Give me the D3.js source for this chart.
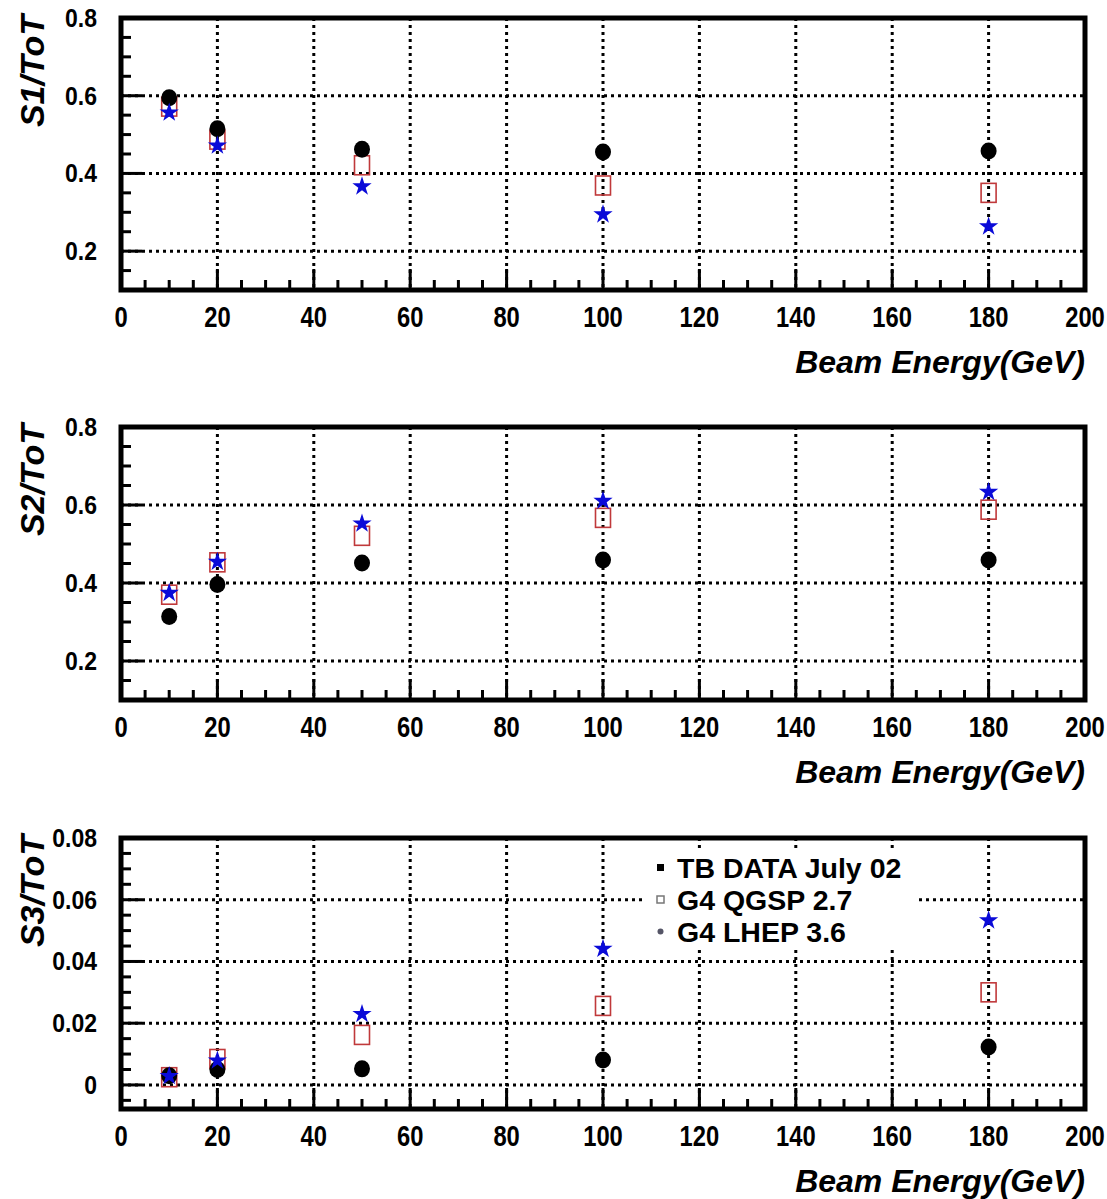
<!DOCTYPE html>
<html><head><meta charset="utf-8">
<script src="https://cdn.jsdelivr.net/npm/d3@7"></script>
<style>body{margin:0;background:#fff}</style>
</head><body><svg id="c" width="1107" height="1199"></svg>
<script>
const energies = [10, 20, 50, 100, 180];
const seriesNames = ["TB DATA July 02", "G4 QGSP 2.7", "G4 LHEP 3.6"];
const s1TB   = [0.595, 0.515, 0.462, 0.455, 0.458];
const s1QGSP = [0.572, 0.487, 0.421, 0.369, 0.350];
const s1LHEP = [0.559, 0.474, 0.369, 0.297, 0.266];
const s2TB   = [0.314, 0.396, 0.451, 0.459, 0.459];
const s2QGSP = [0.370, 0.453, 0.521, 0.567, 0.588];
const s2LHEP = [0.377, 0.457, 0.555, 0.613, 0.636];
const s3TB   = [0.0030, 0.0050, 0.0052, 0.0081, 0.0123];
const s3QGSP = [0.0025, 0.0084, 0.0162, 0.0256, 0.0300];
const s3LHEP = [0.0032, 0.0082, 0.0233, 0.0444, 0.0536];
const xTicks = [0, 20, 40, 60, 80, 100, 120, 140, 160, 180, 200];
const yTicks12 = [0.2, 0.4, 0.6, 0.8];
const yTicks3 = [0, 0.02, 0.04, 0.06, 0.08];
const yTitles = ["S1/ToT", "S2/ToT", "S3/ToT"];
const xTitle = "Beam Energy(GeV)";

const svg = d3.select("#c");
const L = 121, R = 1085;
const x = d3.scaleLinear().domain([0, 200]).range([L, R]);
const FONT = "Liberation Sans, Arial, Helvetica, sans-serif";

const panels = [
  {top: 18, bottom: 290, dom: [0.1, 0.8], ticks: yTicks12, minor: d3.range(0.15, 0.8, 0.05), fmt: d3.format(".1f"), data: [s1TB, s1QGSP, s1LHEP], title: yTitles[0]},
  {top: 427, bottom: 700, dom: [0.1, 0.8], ticks: yTicks12, minor: d3.range(0.15, 0.8, 0.05), fmt: d3.format(".1f"), data: [s2TB, s2QGSP, s2LHEP], title: yTitles[1]},
  {top: 838, bottom: 1109, dom: [-0.0078, 0.08], ticks: yTicks3, minor: d3.range(-0.005, 0.08, 0.005), fmt: v => v === 0 ? "0" : d3.format(".2f")(v), data: [s3TB, s3QGSP, s3LHEP], title: yTitles[2], legend: true}
];

const starPath = d3.symbol().type(d3.symbolStar).size(115)();

panels.forEach(p => {
  const y = d3.scaleLinear().domain(p.dom).range([p.bottom, p.top]);
  const g = svg.append("g");
  // grid
  const gridY = p.ticks.filter(t => y(t) > p.top + 3);
  g.selectAll(".gy").data(gridY).enter().append("line")
    .attr("x1", L).attr("x2", R).attr("y1", d => y(d)).attr("y2", d => y(d))
    .attr("stroke", "#000").attr("stroke-width", 3).attr("stroke-dasharray", "3,4");
  g.selectAll(".gx").data(xTicks.filter(t => t > 0 && t < 200)).enter().append("line")
    .attr("x1", d => x(d)).attr("x2", d => x(d)).attr("y1", p.top).attr("y2", p.bottom)
    .attr("stroke", "#000").attr("stroke-width", 3).attr("stroke-dasharray", "3,4");
  // x ticks
  const xMinor = d3.range(5, 200, 5).filter(v => v % 20 !== 0);
  g.selectAll(".xm").data(xMinor).enter().append("line")
    .attr("x1", d => x(d)).attr("x2", d => x(d)).attr("y1", p.bottom).attr("y2", p.bottom - 10)
    .attr("stroke", "#000").attr("stroke-width", 3);
  g.selectAll(".xM").data(xTicks.filter(t => t > 0 && t < 200)).enter().append("line")
    .attr("x1", d => x(d)).attr("x2", d => x(d)).attr("y1", p.bottom).attr("y2", p.bottom - 21)
    .attr("stroke", "#000").attr("stroke-width", 3);
  // y ticks
  g.selectAll(".ym").data(p.minor.filter(v => !p.ticks.some(t => Math.abs(t - v) < 1e-6))).enter().append("line")
    .attr("x1", L).attr("x2", L + 10).attr("y1", d => y(d)).attr("y2", d => y(d))
    .attr("stroke", "#000").attr("stroke-width", 3);
  g.selectAll(".yM").data(p.ticks).enter().append("line")
    .attr("x1", L).attr("x2", L + 21).attr("y1", d => y(d)).attr("y2", d => y(d))
    .attr("stroke", "#000").attr("stroke-width", 3);
  // frame
  g.append("rect").attr("x", L).attr("y", p.top).attr("width", R - L).attr("height", p.bottom - p.top)
    .attr("fill", "none").attr("stroke", "#000").attr("stroke-width", 5);
  // tick labels
  g.selectAll(".yl").data(p.ticks).enter().append("text")
    .attr("transform", d => `translate(97,${y(d)}) scale(0.92,1)`).attr("dy", "0.36em").attr("text-anchor", "end")
    .attr("font-family", FONT).attr("font-weight", "bold").attr("font-size", 25)
    .text(p.fmt);
  g.selectAll(".xl").data(xTicks).enter().append("text")
    .attr("transform", d => `translate(${x(d)},${p.bottom + 37}) scale(0.82,1)`).attr("text-anchor", "middle")
    .attr("font-family", FONT).attr("font-weight", "bold").attr("font-size", 29)
    .text(d => d);
  // titles
  g.append("text").attr("transform", `translate(44,${p.top - 3}) rotate(-90)`)
    .attr("text-anchor", "end")
    .attr("font-family", FONT).attr("font-weight", "bold").attr("font-style", "italic").attr("font-size", 34)
    .text(p.title);
  g.append("text").attr("x", R).attr("y", p.bottom + 83).attr("text-anchor", "end")
    .attr("font-family", FONT).attr("font-weight", "bold").attr("font-style", "italic").attr("font-size", 32)
    .text(xTitle);

  // legend background (drawn before markers)
  if (p.legend) {
    g.append("rect").attr("x", 645).attr("y", 849).attr("width", 272).attr("height", 98).attr("fill", "#fff");
    const ly = [868, 900, 932];
    g.append("rect").attr("x", 657).attr("y", ly[0] - 4).attr("width", 7).attr("height", 7).attr("fill", "#000");
    g.append("rect").attr("x", 657).attr("y", ly[1] - 4).attr("width", 7).attr("height", 7).attr("fill", "none").attr("stroke", "#777").attr("stroke-width", 1.5);
    g.append("circle").attr("cx", 660.5).attr("cy", ly[2] - 0.5).attr("r", 3).attr("fill", "#556");
    g.selectAll(".lt").data(seriesNames).enter().append("text")
      .attr("x", 677).attr("y", (d, i) => ly[i]).attr("dy", "0.36em")
      .attr("font-family", FONT).attr("font-weight", "bold").attr("font-size", 28.5)
      .text(d => d);
  }

  // markers: squares, circles, stars
  const [tb, qg, lh] = p.data;
  g.selectAll(".sq").data(qg).enter().append("rect")
    .attr("x", (d, i) => x(energies[i]) - 7.5).attr("y", d => y(d) - 9.5)
    .attr("width", 15).attr("height", 19)
    .attr("fill", "none").attr("stroke", "#c0393b").attr("stroke-width", 1.6);
  g.selectAll(".ci").data(tb).enter().append("ellipse")
    .attr("cx", (d, i) => x(energies[i])).attr("cy", d => y(d))
    .attr("rx", 8).attr("ry", 8.5).attr("fill", "#000");
  g.selectAll(".st").data(lh).enter().append("path")
    .attr("d", starPath)
    .attr("transform", (d, i) => `translate(${x(energies[i])},${y(d) + 1})`)
    .attr("fill", "#0a0ad8");
});
</script>
</body></html>
